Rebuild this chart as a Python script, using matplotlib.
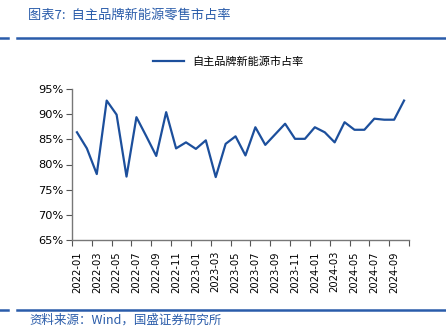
import matplotlib.pyplot as plt
from matplotlib.lines import Line2D

plt.rcParams['font.family'] = ['Noto Sans CJK SC', 'DejaVu Sans']

BLUE = "#1c4f9c"
HEADER_BLUE = "#2a5caa"

months = [f"{y}-{m:02d}" for y in (2022, 2023) for m in range(1, 13)] + \
         [f"2024-{m:02d}" for m in range(1, 11)]
share = [
    86.4, 83.2, 78.1, 92.7, 89.9, 77.6, 89.4, 85.6, 81.7, 90.4, 83.2, 84.4,
    83.1, 84.8, 77.5, 84.1, 85.6, 81.8, 87.4, 83.9, 86.0, 88.1, 85.1, 85.1,
    87.4, 86.4, 84.4, 88.4, 86.9, 86.9, 89.1, 88.9, 88.9, 92.7,
]
yticks = [65, 70, 75, 80, 85, 90, 95]

W, H = 446, 335
fig = plt.figure(figsize=(W / 100, H / 100), dpi=100)
ax = fig.add_axes([72 / W, 1 - 240 / H, (409 - 72) / W, (240 - 89) / H])

x = list(range(len(months)))
ax.plot(x, share, color=BLUE, linewidth=1.6, label="自主品牌新能源市占率")

ax.set_xlim(-0.5, len(months) - 0.5)
ax.set_ylim(65, 95)
ax.set_yticks(yticks)
ax.set_yticklabels([f"{v}%" for v in yticks], family="DejaVu Sans", fontsize=8.2)

# category-style ticks: marks between months, labels on every other month
ax.set_xticks([i - 0.5 for i in range(0, len(months) + 1, 2)])
ax.set_xticklabels([])
ax.set_xticks(x[::2], minor=True)
ax.set_xticklabels(months[::2], minor=True, rotation=90,
                   family="DejaVu Sans", fontsize=7.2)
ax.tick_params(axis="x", which="minor", length=0, pad=8)
ax.tick_params(axis="x", which="major", length=4, color="#555555")
ax.tick_params(axis="y", length=4, color="#555555", pad=2)

for side in ("top", "right"):
    ax.spines[side].set_visible(False)
for side in ("left", "bottom"):
    ax.spines[side].set_color("#777777")
    ax.spines[side].set_linewidth(1.0)

ax.legend(loc="upper center", bbox_to_anchor=(228 / W, 1 - 52 / H),
          bbox_transform=fig.transFigure, frameon=False, fontsize=8,
          handlelength=2.8, handletextpad=0.7, borderaxespad=0)

# header and footer rules
for yy in (38, 310):
    fig.add_artist(Line2D([0, 8 / W], [1 - yy / H] * 2, color=HEADER_BLUE, lw=1.8))
    fig.add_artist(Line2D([17 / W, 1], [1 - yy / H] * 2, color=HEADER_BLUE, lw=1.8))

fig.text(28 / W, 1 - 15 / H, "图表7:  自主品牌新能源零售市占率", color=HEADER_BLUE,
         fontsize=9.5, va="center", ha="left")
fig.text(29 / W, 1 - 320 / H, "资料来源：Wind，国盛证券研究所", color=HEADER_BLUE,
         fontsize=9, va="center", ha="left")

fig.savefig("out.png", dpi=100)
